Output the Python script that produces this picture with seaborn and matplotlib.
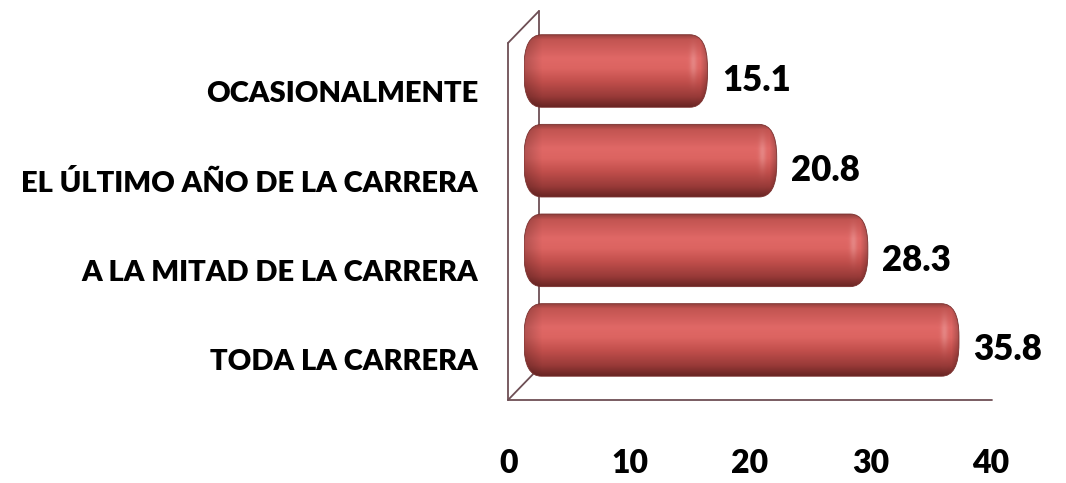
import numpy as np
import matplotlib
matplotlib.use("Agg")
import matplotlib.pyplot as plt
from matplotlib.patches import FancyBboxPatch
from matplotlib.colors import to_rgb
from matplotlib.transforms import ScaledTranslation
import seaborn as sns

categories = ["OCASIONALMENTE", "EL ÚLTIMO AÑO DE LA CARRERA",
              "A LA MITAD DE LA CARRERA", "TODA LA CARRERA"]
values = [15.1, 20.8, 28.3, 35.8]
x_ticks = [0, 10, 20, 30, 40]

sns.set_theme(style="white")
plt.rcParams["font.family"] = ["Lato", "DejaVu Sans"]

TEXT_WEIGHT = "heavy"

W, H = 1066, 483
fig = plt.figure(figsize=(W / 100, H / 100), dpi=100)
fig.patch.set_facecolor("white")


def px_rect(x0, y0, x1, y1):
    """Figure-fraction rect from pixel box (top-left origin)."""
    return [x0 / W, (H - y1) / H, (x1 - x0) / W, (y1 - y0) / H]


# front plane of the 3D frame: carries the value axis
front = fig.add_axes(px_rect(509, 43, 991, 400))
front.set_xlim(0, 40)
front.set_ylim(0, 1)
front.patch.set_alpha(0)
for s in front.spines.values():
    s.set_visible(False)
front.set_yticks([])
front.set_xticks(x_ticks)
front.set_xticklabels([str(t) for t in x_ticks], fontsize=23, fontweight=TEXT_WEIGHT)
front.tick_params(axis="x", length=0, pad=35, colors="black")

# frame: front floor, left edge, depth edges and back wall (behind the bars)
frame_col = "#6e4f55"
ftr = fig.transFigure
def fig_line(p, q):
    fig.add_artist(plt.Line2D([p[0] / W, q[0] / W], [1 - p[1] / H, 1 - q[1] / H],
                              transform=ftr, color=frame_col, lw=1.3, zorder=-1))
fig_line((508, 400), (992, 400))
fig_line((508, 400), (508, 43))
fig_line((508, 43), (539, 11))
fig_line((539, 11), (539, 368))
fig_line((508, 400), (539, 368))

# bars
BAR_X0, PX_PER_X = 524, 12.15
ax = fig.add_axes(px_rect(BAR_X0, 26.2, BAR_X0 + 40 * PX_PER_X, 384.8))
ax.patch.set_alpha(0)
sns.barplot(x=values, y=categories, orient="h", ax=ax, width=0.81,
            color="#c0504d", order=categories)
ax.set_xlim(0, 40)
ax.set_ylim(3.5, -0.5)
for s in ax.spines.values():
    s.set_visible(False)
ax.set_xticks([])
ax.set_xlabel("")
ax.set_ylabel("")
ax.tick_params(axis="y", length=0, pad=33, labelsize=21)
off = ScaledTranslation(0, -20 / 100, fig.dpi_scale_trans)
for lab in ax.get_yticklabels():
    lab.set_fontweight(TEXT_WEIGHT)
    lab.set_color("black")
    lab.set_transform(lab.get_transform() + off)

# cylinder shading profile (top -> bottom)
stops = [(0.00, "#93403d"), (0.07, "#c25451"), (0.33, "#e06866"),
         (0.47, "#dc6461"), (0.66, "#c04e4b"), (0.86, "#983a38"),
         (1.00, "#6a2624")]
pos = np.array([s[0] for s in stops])
cols = np.array([to_rgb(s[1]) for s in stops])


def cylinder(width_px, height_px):
    t = np.linspace(0, 1, height_px)
    prof = np.stack([np.interp(t, pos, cols[:, k]) for k in range(3)], axis=-1)
    img = np.repeat(prof[:, None, :], width_px, axis=1)
    xs = np.arange(width_px)
    # darker left cap
    left = 0.80 + 0.20 * np.clip(xs / 18.0, 0, 1)
    # right cap: soft highlight then dark rim
    d = width_px - xs
    right = 1.0 - 0.25 * np.clip(1 - d / 8.0, 0, 1)
    img = img * (left * right)[None, :, None]
    glow = 0.2 * np.exp(-((d - 15.0) / 3.5) ** 2)
    vert = np.exp(-((t - 0.4) / 0.22) ** 2)
    img = img + (1 - img) * glow[None, :, None] * vert[:, None, None]
    return np.clip(img, 0, 1)


px_per_y = 89.65
for p in list(ax.patches):
    x0, y0 = p.get_x(), p.get_y()
    w, h = p.get_width(), p.get_height()
    p.set_visible(False)
    r = 1.45
    asp = 0.25
    box = FancyBboxPatch((x0, y0), w, h,
                         boxstyle=f"round,pad=0,rounding_size={r}",
                         mutation_aspect=asp, facecolor="none",
                         edgecolor="#7a302e", lw=0.6, zorder=3)
    ax.add_patch(box)
    img = cylinder(int(round(w * PX_PER_X)), int(round(h * px_per_y)))
    im = ax.imshow(img, extent=(x0, x0 + w, y0 + h, y0), aspect="auto",
                   zorder=2, interpolation="bilinear")
    im.set_clip_path(box)

ax.set_xlim(0, 40)
ax.set_ylim(3.5, -0.5)

for i, v in enumerate(values):
    ax.text(v + 1.2, i + 0.11, f"{v:.1f}", ha="left", va="center",
            fontsize=25, fontweight=TEXT_WEIGHT, color="black")

fig.savefig("out.png", dpi=100, facecolor="white")
